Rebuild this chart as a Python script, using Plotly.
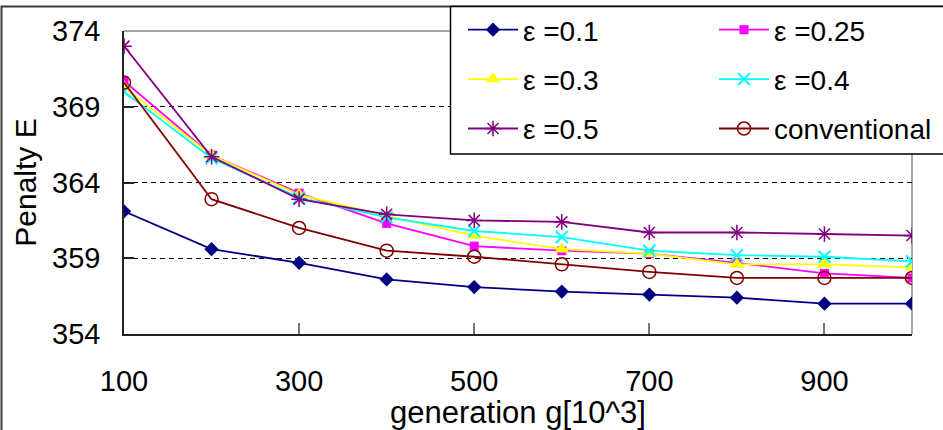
import plotly.graph_objects as go

generations = [100, 200, 300, 400, 500, 600, 700, 800, 900, 1000]

eps_01 = [362.1, 359.6, 358.7, 357.6, 357.1, 356.8, 356.6, 356.4, 356.0, 356.0]
eps_025 = [370.7, 365.8, 363.3, 361.3, 359.8, 359.5, 359.3, 358.7, 358.0, 357.7]
eps_03 = [370.3, 365.8, 363.2, 361.8, 360.5, 359.6, 359.3, 358.6, 358.6, 358.4]
eps_04 = [370.0, 365.6, 363.0, 361.7, 360.8, 360.4, 359.5, 359.2, 359.1, 358.8]
eps_05 = [373.0, 365.7, 362.9, 361.9, 361.5, 361.4, 360.7, 360.7, 360.6, 360.5]
conventional = [370.6, 362.9, 361.0, 359.5, 359.1, 358.6, 358.1, 357.7, 357.7, 357.7]

x_ticks = [100, 300, 500, 700, 900]
y_ticks = [354, 359, 364, 369, 374]

# name, values, colour, symbol, size, marker line width, legend column
series = [
    ("\u03b5 =0.1", eps_01, "#000080", "diamond", 11, 0, "legend"),
    ("\u03b5 =0.25", eps_025, "#FF00FF", "square", 9, 0, "legend2"),
    ("\u03b5 =0.3", eps_03, "#FFFF00", "triangle-up", 13, 0, "legend"),
    ("\u03b5 =0.4", eps_04, "#00FFFF", "x-thin-open", 12, 2, "legend2"),
    ("\u03b5 =0.5", eps_05, "#800080", "asterisk-open", 13, 1.5, "legend"),
    ("conventional", conventional, "#800000", "circle-open", 13, 1.5, "legend2"),
]

fig = go.Figure()
for i, (name, vals, color, sym, size, mlw, leg) in enumerate(series):
    marker = dict(symbol=sym, size=size, color=color)
    if mlw:
        marker["line"] = dict(color=color, width=mlw)
    fig.add_trace(go.Scatter(
        x=generations, y=vals, name=name, mode="lines+markers",
        line=dict(color=color, width=1.8), marker=marker,
        legend=leg, legendgroup="g%d" % i,
    ))

W, H = 943, 430
L, R, T, B = 124, 31, 31, 96
pw, ph = W - L - R, H - T - B

def px_x(p):
    return (p - L) / pw

def px_y(p):
    return (H - B - p) / ph

font = "Liberation Sans, Arial, sans-serif"

leg_common = dict(
    orientation="v", xanchor="left", yanchor="top",
    bgcolor="rgba(0,0,0,0)", borderwidth=0,
    font=dict(family=font, size=28, color="black"),
    itemwidth=50, tracegroupgap=10, traceorder="grouped",
)

fig.update_layout(
    width=W, height=H,
    margin=dict(l=L, r=R, t=T, b=B, autoexpand=False),
    paper_bgcolor="white", plot_bgcolor="white",
    font=dict(family=font, size=29, color="black"),
    showlegend=True,
    legend=dict(x=px_x(463), y=px_y(5), **leg_common),
    legend2=dict(x=px_x(714), y=px_y(5), **leg_common),
    xaxis=dict(
        range=[100, 1000], tickvals=x_ticks, ticktext=[str(v) for v in x_ticks],
        showgrid=False, zeroline=False,
        showline=True, linecolor="#222222", linewidth=1.5,
        ticks="inside", ticklen=11, tickcolor="#777777", tickwidth=1.5,
        ticklabelstandoff=20,
        tickfont=dict(size=29),
        title=dict(text="generation g[10^3]", font=dict(size=31), standoff=5),
        automargin=False,
    ),
    yaxis=dict(
        range=[354, 374], tickvals=y_ticks, ticktext=[str(v) for v in y_ticks],
        showgrid=True, gridcolor="black", gridwidth=1, griddash="5px,4px",
        zeroline=False,
        showline=True, linecolor="#222222", linewidth=1.5,
        ticks="inside", ticklen=10, tickcolor="#222222", tickwidth=1.5,
        ticklabelstandoff=16,
        tickfont=dict(size=29),
        title=dict(text="Penalty E", font=dict(size=30), standoff=7),
        automargin=False,
    ),
    shapes=[
        dict(type="line", xref="paper", yref="paper", x0=0, x1=1, y0=1, y1=1,
             line=dict(color="#888888", width=1.5), layer="between"),
        dict(type="line", xref="paper", yref="paper", x0=1, x1=1, y0=0, y1=1,
             line=dict(color="#888888", width=1.5), layer="between"),
        dict(type="rect", xref="paper", yref="paper",
             x0=px_x(1.5), x1=px_x(W + 20), y0=px_y(H + 20), y1=px_y(6.5),
             line=dict(color="#3a3a3a", width=2), fillcolor="rgba(0,0,0,0)",
             layer="below"),
        dict(type="rect", xref="paper", yref="paper",
             x0=px_x(450.5), x1=px_x(W + 20), y0=px_y(154), y1=px_y(6.5),
             line=dict(color="black", width=1.5), fillcolor="white",
             layer="above"),
    ],
)

fig.write_html("out.html", config={"displayModeBar": False},
               post_script="document.body.style.margin='0';")
